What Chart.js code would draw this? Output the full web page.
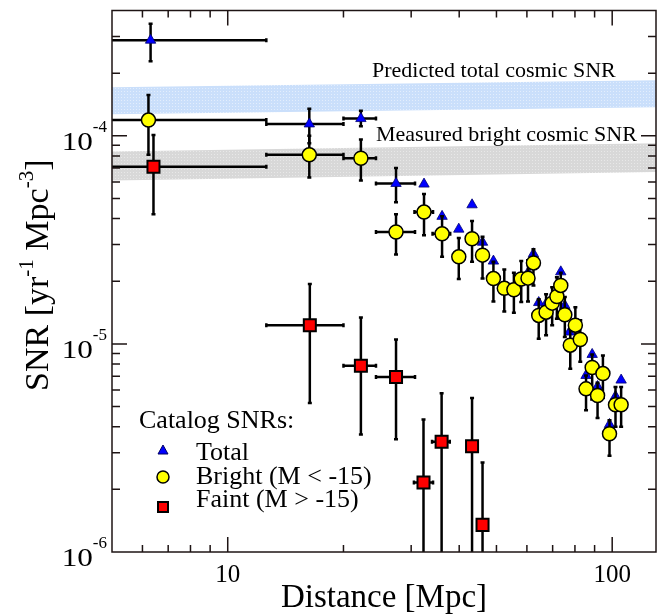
<!DOCTYPE html>
<html>
<head>
<meta charset="utf-8">
<script src="https://cdn.jsdelivr.net/npm/chart.js@4.4.0/dist/chart.umd.min.js"></script>
<style>
  html, body { margin: 0; padding: 0; background: #fff; }
</style>
</head>
<body>
<canvas id="snrChart" width="668" height="614"></canvas>
<script>
// catalog SNR points (distance in Mpc, rate in yr^-1 Mpc^-3)
const totalDist  = [6.3, 16.3, 22.2, 27.4, 32.4, 36.1, 39.9, 43.2, 46.0, 49.1, 60.4, 62.4, 64.4, 67.3, 73.5, 75.3, 77.4, 85.5, 88.7, 91.6, 98.4, 102, 105.5];
const totalRate  = [2.88e-4, 1.14e-4, 1.21e-4, 5.9e-5, 5.86e-5, 4.1e-5, 3.56e-5, 4.66e-5, 3.08e-5, 2.5e-5, 2.2e-5, 2.71e-5, 1.58e-5, 1.56e-5, 2.22e-5, 1.53e-5, 1.14e-5, 7.05e-6, 8.9e-6, 6.24e-6, 4.1e-6, 5.6e-6, 6.7e-6];
const totalRateLo = [2.28e-4, 9.2e-5, 1.11e-4, 4.8e-5];
const totalRateHi = [3.45e-4, 1.35e-4, 1.32e-4, 7.0e-5];
const totalDistLo = [4, 12.6, 20.0, 24.3];
const totalDistHi = [12.6, 20.0, 24.3, 30.7];

const brightDist = [6.22, 16.3, 22.2, 27.4, 32.4, 36.1, 39.9, 43.2, 46.0, 49.1, 52.4, 55.5, 58.0, 60.4, 62.4, 64.4, 67.3, 69.8, 71.8, 73.5, 75.3, 77.8, 80.2, 82.6, 85.5, 88.7, 91.6, 94.6, 98.4, 102, 105.5];
const brightRate = [1.19e-4, 8.1e-5, 7.8e-5, 3.45e-5, 4.3e-5, 3.38e-5, 2.62e-5, 3.2e-5, 2.67e-5, 2.06e-5, 1.85e-5, 1.82e-5, 2.05e-5, 2.07e-5, 2.45e-5, 1.37e-5, 1.42e-5, 1.57e-5, 1.69e-5, 1.91e-5, 1.38e-5, 9.86e-6, 1.23e-5, 1.05e-5, 6.08e-6, 7.7e-6, 5.65e-6, 7.2e-6, 3.7e-6, 5.1e-6, 5.1e-6];
const brightRateLo = [8.1e-5, 6.3e-5, 6.1e-5, 2.69e-5, 3.33e-5, 2.62e-5, 2.05e-5, 2.48e-5, 2.06e-5, 1.6e-5, 1.43e-5, 1.41e-5, 1.59e-5, 1.6e-5, 1.91e-5, 1.06e-5, 1.1e-5, 1.23e-5, 1.32e-5, 1.32e-5, 1.08e-5, 7.6e-6, 9.9e-6, 8.2e-6, 4.8e-6, 5.4e-6, 4.4e-6, 5.5e-6, 2.9e-6, 4.0e-6, 4.0e-6];
const brightRateHi = [1.57e-4, 1.0e-4, 9.6e-5, 4.2e-5, 5.25e-5, 4.1e-5, 3.23e-5, 3.9e-5, 3.27e-5, 2.48e-5, 2.28e-5, 2.2e-5, 2.5e-5, 2.52e-5, 2.85e-5, 1.64e-5, 1.73e-5, 1.87e-5, 2.09e-5, 2.2e-5, 1.68e-5, 1.18e-5, 1.5e-5, 1.3e-5, 7.05e-6, 8.9e-6, 6.5e-6, 8.8e-6, 4.3e-6, 6.2e-6, 6.2e-6];
const brightDistLo = [4, 12.6, 20.0, 24.3, 30.6, 34.1, 38.6];
const brightDistHi = [12.6, 20.0, 24.3, 30.7, 34.2, 37.9, 41.2];

const faintDist = [6.41, 16.35, 22.2, 27.4, 32.3, 36.0, 43.2, 46.0];
const faintRate = [7.1e-5, 1.23e-5, 7.85e-6, 6.93e-6, 2.16e-6, 3.39e-6, 3.22e-6, 1.35e-6];
const faintRateLo = [4.2e-5, 5.2e-6, 3.67e-6, 3.48e-6, 1e-7, 1e-7, 1e-7, 1e-7];
const faintRateHi = [1.01e-4, 1.94e-5, 1.34e-5, 1.05e-5, 4.33e-6, 5.8e-6, 5.5e-6, 2.69e-6];
const faintDistLo = [4, 12.6, 20.0, 24.3, 30.5, 34.0];
const faintDistHi = [12.6, 20.0, 24.3, 30.7, 34.2, 37.8];

// cosmic rate bands (ends of the plotted distance range)
const bandDist = [5, 130];
const predictedHi = [1.71e-4, 1.85e-4];
const predictedLo = [1.27e-4, 1.37e-4];
const measuredHi = [8.4e-5, 9.2e-5];
const measuredLo = [6.1e-5, 6.7e-5];

const yDecades = [1e-6, 1e-5, 1e-4];

const SERIF = '"Liberation Serif", "DejaVu Serif", serif';

function pts(xs, ys) {
  return xs.map((v, i) => ({ x: v, y: ys[i] }));
}

function dotted(base, dot) {
  const c = document.createElement('canvas');
  c.width = 3; c.height = 3;
  const g = c.getContext('2d');
  g.fillStyle = base; g.fillRect(0, 0, 3, 3);
  g.fillStyle = dot; g.fillRect(1, 1, 1, 1);
  return g.createPattern(c, 'repeat');
}

function isIntMantissa(v) {
  const m = v / Math.pow(10, Math.floor(Math.log10(v) + 1e-9));
  return Math.abs(m - Math.round(m)) < 1e-6 ? Math.round(m) : 0;
}

// error bars, drawn just before each dataset's markers
const errorBars = {
  id: 'errorBars',
  beforeDatasetDraw(chart, args) {
    const ds = chart.data.datasets[args.index];
    if (!ds.yLo) return;
    const { ctx, chartArea: a, scales: { x, y } } = chart;
    ctx.save();
    ctx.beginPath();
    ctx.rect(a.left, a.top, a.right - a.left, a.bottom - a.top);
    ctx.clip();
    ctx.strokeStyle = '#000';
    ctx.lineWidth = 2.5;
    ds.data.forEach((p, i) => {
      const px = x.getPixelForValue(p.x);
      const py = y.getPixelForValue(p.y);
      ctx.beginPath();
      if (ds.yLo[i] != null) {
        const y1 = y.getPixelForValue(ds.yLo[i]), y2 = y.getPixelForValue(ds.yHi[i]);
        ctx.moveTo(px, y1); ctx.lineTo(px, y2);
        ctx.moveTo(px - 2, y1); ctx.lineTo(px + 2, y1);
        ctx.moveTo(px - 2, y2); ctx.lineTo(px + 2, y2);
      }
      if (ds.xLo && ds.xLo[i] != null) {
        const x1 = x.getPixelForValue(ds.xLo[i]), x2 = x.getPixelForValue(ds.xHi[i]);
        ctx.moveTo(x1, py); ctx.lineTo(x2, py);
        ctx.moveTo(x1, py - 2); ctx.lineTo(x1, py + 2);
        ctx.moveTo(x2, py - 2); ctx.lineTo(x2, py + 2);
      }
      ctx.stroke();
    });
    ctx.restore();
  }
};

// frame, inward ticks, y labels, titles, band labels and legend
const decor = {
  id: 'decor',
  afterDraw(chart) {
    const { ctx, chartArea: a, scales: { x, y } } = chart;
    ctx.save();
    ctx.strokeStyle = '#1e1414';
    ctx.lineWidth = 1.5;
    ctx.strokeRect(a.left, a.top, a.right - a.left, a.bottom - a.top);

    ctx.beginPath();
    x.ticks.forEach(t => {
      const m = isIntMantissa(t.value);
      const px = x.getPixelForValue(t.value);
      if (!m || px < a.left + 1 || px > a.right - 1) return;
      const len = m === 1 ? 15 : 7;
      ctx.moveTo(px, a.bottom); ctx.lineTo(px, a.bottom - len);
      ctx.moveTo(px, a.top); ctx.lineTo(px, a.top + len);
    });
    y.ticks.forEach(t => {
      const m = isIntMantissa(t.value);
      const py = y.getPixelForValue(t.value);
      if (!m || py < a.top + 1 || py > a.bottom - 1) return;
      const len = m === 1 ? 15 : 8;
      ctx.moveTo(a.left, py); ctx.lineTo(a.left + len, py);
      ctx.moveTo(a.right, py); ctx.lineTo(a.right - len, py);
    });
    ctx.stroke();

    ctx.fillStyle = '#000';
    ctx.textBaseline = 'alphabetic';
    // y tick labels 10^-n
    yDecades.forEach(v => {
      const py = y.getPixelForValue(v);
      const exp = String(Math.round(Math.log10(v)));
      ctx.font = '17px ' + SERIF;
      const ew = ctx.measureText(exp).width;
      ctx.textAlign = 'right';
      ctx.fillText(exp, 107, py - 4);
      ctx.save();
      ctx.translate(107 - ew, py + 14);
      ctx.scale(1.2, 1);
      ctx.font = '26px ' + SERIF;
      ctx.fillText('10', 0, 0);
      ctx.restore();
    });

    // y title, centred on the plot height
    ctx.save();
    const parts = [['SNR [yr', 34, 0], ['-1', 21, -15], [' Mpc', 34, 0], ['-3', 21, -15], [']', 34, 0]];
    let total = 0;
    parts.forEach(([s, sz]) => { ctx.font = sz + 'px ' + SERIF; total += ctx.measureText(s).width; });
    ctx.translate(48, (a.top + a.bottom) / 2 - 6 + total / 2);
    ctx.rotate(-Math.PI / 2);
    ctx.textAlign = 'left';
    let cx = 0;
    parts.forEach(([s, sz, dy]) => {
      ctx.font = sz + 'px ' + SERIF;
      ctx.fillText(s, cx, dy);
      cx += ctx.measureText(s).width;
    });
    ctx.restore();

    // x title
    ctx.textAlign = 'center';
    ctx.font = '33px ' + SERIF;
    ctx.fillText('Distance [Mpc]', (a.left + a.right) / 2, 607);

    // band labels
    ctx.textAlign = 'left';
    ctx.font = '22px ' + SERIF;
    ctx.fillText('Predicted total cosmic SNR', 372, 77);
    ctx.fillText('Measured bright cosmic SNR', 376, 141);

    // legend
    ctx.font = '26px ' + SERIF;
    ctx.fillText('Catalog SNRs:', 139, 428);
    ctx.fillText('Total', 196, 460);
    ctx.fillText('Bright (M < -15)', 196, 484);
    ctx.fillText('Faint (M > -15)', 196, 507);

    ctx.lineWidth = 1;
    ctx.fillStyle = '#0000ff'; ctx.strokeStyle = '#000060';
    ctx.beginPath();
    ctx.moveTo(163, 445); ctx.lineTo(168, 454); ctx.lineTo(158, 454); ctx.closePath();
    ctx.fill(); ctx.stroke();
    ctx.lineWidth = 1.5;
    ctx.fillStyle = '#ffff00'; ctx.strokeStyle = '#000';
    ctx.beginPath(); ctx.arc(163, 477, 6, 0, Math.PI * 2); ctx.fill(); ctx.stroke();
    ctx.lineWidth = 2;
    ctx.fillStyle = '#ff0000';
    ctx.fillRect(158, 502, 10, 10); ctx.strokeRect(158, 502, 10, 10);
    ctx.restore();
  }
};

new Chart(document.getElementById('snrChart'), {
  type: 'scatter',
  data: {
    datasets: [
      {
        label: 'Faint (M > -15)',
        data: pts(faintDist, faintRate),
        yLo: faintRateLo, yHi: faintRateHi, xLo: faintDistLo, xHi: faintDistHi,
        pointStyle: 'rect', pointRadius: 8.5,
        backgroundColor: '#ff0000', borderColor: '#000', borderWidth: 2
      },
      {
        label: 'Bright (M < -15)',
        data: pts(brightDist, brightRate),
        yLo: brightRateLo, yHi: brightRateHi, xLo: brightDistLo, xHi: brightDistHi,
        pointStyle: 'circle', pointRadius: 7,
        backgroundColor: '#ffff00', borderColor: '#000', borderWidth: 1.5
      },
      {
        label: 'Total',
        data: pts(totalDist, totalRate),
        yLo: totalRateLo, yHi: totalRateHi, xLo: totalDistLo, xHi: totalDistHi,
        pointStyle: 'triangle', pointRadius: 6,
        backgroundColor: '#0000ff', borderColor: '#000070', borderWidth: 0.8
      },
      {
        label: 'Predicted total cosmic SNR',
        type: 'line',
        data: pts(bandDist, predictedHi),
        pointRadius: 0, borderWidth: 0, fill: '+1',
        backgroundColor: dotted('#cadffb', '#e3eefd')
      },
      {
        label: 'predicted lower',
        type: 'line',
        data: pts(bandDist, predictedLo),
        pointRadius: 0, borderWidth: 0, fill: false
      },
      {
        label: 'Measured bright cosmic SNR',
        type: 'line',
        data: pts(bandDist, measuredHi),
        pointRadius: 0, borderWidth: 0, fill: '+1',
        backgroundColor: dotted('#d8d8d8', '#e8e8e8')
      },
      {
        label: 'measured lower',
        type: 'line',
        data: pts(bandDist, measuredLo),
        pointRadius: 0, borderWidth: 0, fill: false
      }
    ]
  },
  options: {
    responsive: false,
    animation: false,
    layout: { padding: { top: 5, right: 12, left: 0, bottom: 0 } },
    plugins: { legend: { display: false }, tooltip: { enabled: false } },
    scales: {
      x: {
        type: 'logarithmic', min: 5, max: 130,
        grid: { display: false, drawTicks: false }, border: { display: false },
        ticks: {
          autoSkip: false, maxRotation: 0, padding: 8, color: '#000',
          font: { family: SERIF, size: 25 },
          callback: v => (Math.abs(v - 10) < 1e-6 ? '10' : Math.abs(v - 100) < 1e-6 ? '100' : '')
        },
        afterFit(s) { s.height = 62; }
      },
      y: {
        type: 'logarithmic', min: 1e-6, max: 4e-4,
        grid: { display: false, drawTicks: false }, border: { display: false },
        ticks: { display: false, autoSkip: false },
        afterFit(s) { s.width = 112; }
      }
    }
  },
  plugins: [errorBars, decor]
});
</script>
</body>
</html>
